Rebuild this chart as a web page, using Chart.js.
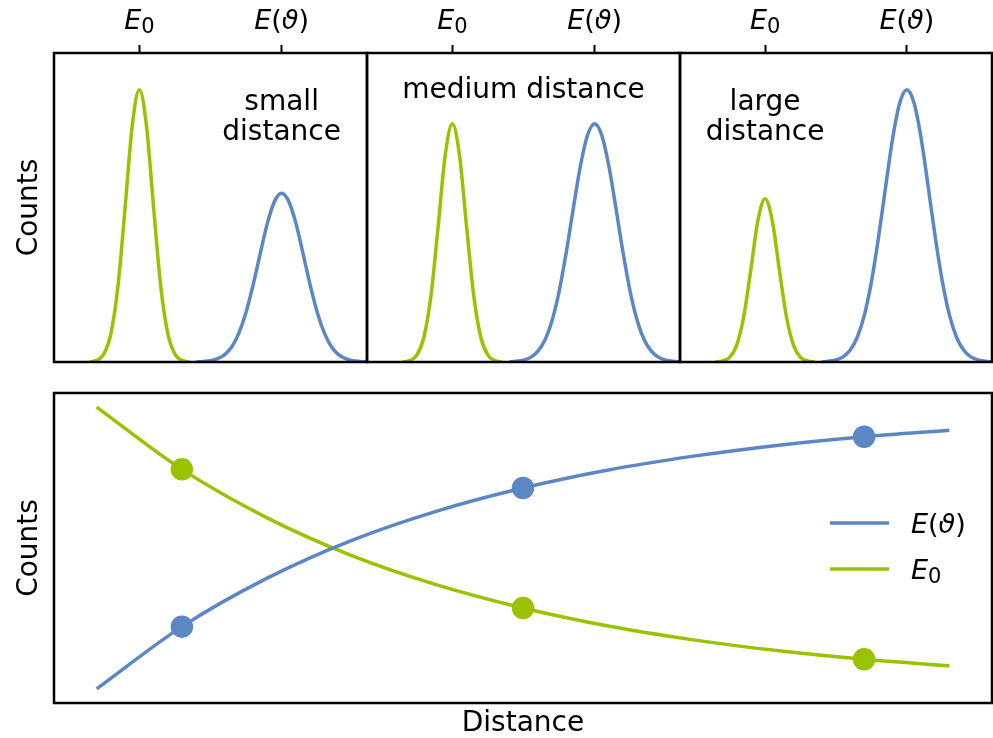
<!DOCTYPE html>
<html>
<head>
<meta charset="utf-8">
<script src="https://cdn.jsdelivr.net/npm/chart.js@4"></script>
<style>
  html, body { margin: 0; padding: 0; background: #fff; }
  #wrap { position: relative; width: 993px; height: 738px; }
  #wrap canvas { position: absolute; left: 0; top: 0; }
</style>
</head>
<body>
<div id="wrap">
  <canvas id="small" width="993" height="738"></canvas>
  <canvas id="medium" width="993" height="738"></canvas>
  <canvas id="large" width="993" height="738"></canvas>
  <canvas id="trend" width="993" height="738"></canvas>
</div>
<script>
// ---- top row: spectra at three distances ----
const energyTicks = [3, 8];
const energyTickLabels = ['E_0', 'E(ϑ)'];
const panelNotes = [['small', 'distance'], ['medium distance'], ['large', 'distance']];

const e0Energy = [1.25, 1.5, 1.75, 2, 2.25, 2.5, 2.75, 3, 3.25, 3.5, 3.75, 4, 4.25, 4.5, 4.75];
const eThetaEnergy = [5, 5.25, 5.5, 5.75, 6, 6.25, 6.5, 6.75, 7, 7.25, 7.5, 7.75, 8,
                      8.25, 8.5, 8.75, 9, 9.25, 9.5, 9.75, 10, 10.25, 10.5, 10.75, 11];

const e0Small = [0, 0.006, 0.029, 0.104, 0.28, 0.568, 0.868, 1, 0.868, 0.568, 0.28, 0.104, 0.029, 0.006, 0];
const eThetaSmall = [0, 0.002, 0.005, 0.012, 0.027, 0.056, 0.107, 0.183, 0.284, 0.399, 0.51, 0.59, 0.62,
                     0.59, 0.51, 0.399, 0.284, 0.183, 0.107, 0.056, 0.027, 0.012, 0.005, 0.002, 0];
const e0Medium = [0, 0.005, 0.025, 0.091, 0.245, 0.497, 0.76, 0.875, 0.76, 0.497, 0.245, 0.091, 0.025, 0.005, 0];
const eThetaMedium = [0, 0.003, 0.007, 0.017, 0.039, 0.08, 0.151, 0.258, 0.401, 0.564, 0.72, 0.833, 0.875,
                      0.833, 0.72, 0.564, 0.401, 0.258, 0.151, 0.08, 0.039, 0.017, 0.007, 0.003, 0];
const e0Large = [0, 0.004, 0.017, 0.062, 0.168, 0.341, 0.521, 0.6, 0.521, 0.341, 0.168, 0.062, 0.017, 0.004, 0];
const eThetaLarge = [0, 0.003, 0.008, 0.019, 0.044, 0.091, 0.172, 0.295, 0.458, 0.644, 0.823, 0.952, 1,
                     0.952, 0.823, 0.644, 0.458, 0.295, 0.172, 0.091, 0.044, 0.019, 0.008, 0.003, 0];

// ---- bottom: counts against distance ----
const distance = [0, 1, 2, 3, 4, 5, 6, 7, 8, 9, 10];
const countsETheta = [0, 0.221, 0.393, 0.528, 0.632, 0.713, 0.777, 0.826, 0.865, 0.895, 0.918];
const countsE0 = [1, 0.779, 0.607, 0.472, 0.368, 0.287, 0.223, 0.174, 0.135, 0.105, 0.082];
const markedDistance = [1, 5, 9];
const seriesLabels = ['E(ϑ)', 'E_0'];

const BLUE = '#5b87c5';
const GREEN = '#9ac200';
const FONT = '"DejaVu Sans", sans-serif';
const LINE_W = 3.5;

Chart.defaults.font.family = FONT;
Chart.defaults.color = '#000';

// split "E_0" / "E(ϑ)" into italic letters, upright symbols, subscripts
function mathRuns(label) {
  const runs = [];
  for (let i = 0; i < label.length; i++) {
    const ch = label[i];
    if (ch === '_') { runs.push({ t: label[++i], sub: true }); continue; }
    runs.push({ t: ch, italic: /[A-Za-zϑ]/.test(ch) });
  }
  return runs;
}

function drawMath(ctx, label, x, y, align) {
  const runs = mathRuns(label);
  const fontFor = r => (r.italic ? 'italic ' : '') + (r.sub ? 21 : 27) + 'px ' + FONT;
  let w = 0;
  runs.forEach(r => { ctx.font = fontFor(r); r.w = ctx.measureText(r.t).width; w += r.w; });
  let cx = align === 'center' ? x - w / 2 : x;
  ctx.save();
  ctx.fillStyle = '#000';
  ctx.textAlign = 'left';
  ctx.textBaseline = 'alphabetic';
  runs.forEach(r => {
    ctx.font = fontFor(r);
    ctx.fillText(r.t, cx, r.sub ? y + 4 : y);
    cx += r.w;
  });
  ctx.restore();
}

const framePlugin = {
  id: 'frame',
  afterDatasetsDraw(chart) {
    const { ctx, chartArea: a } = chart;
    ctx.save();
    ctx.strokeStyle = '#000';
    ctx.lineWidth = 2.5;
    ctx.strokeRect(a.left, a.top, a.right - a.left, a.bottom - a.top);
    ctx.restore();
  }
};

// tick labels above the top axis and the text note inside each panel
const spectrumText = {
  id: 'spectrumText',
  afterDraw(chart, args, opts) {
    const { ctx, chartArea: a } = chart;
    const top = chart.scales.xt;
    top.ticks.forEach((t, i) => {
      drawMath(ctx, energyTickLabels[i], top.getPixelForValue(t.value), a.top - 24, 'center');
    });
    const x = chart.scales.x.getPixelForValue(opts.noteAt);
    ctx.save();
    ctx.font = '28px ' + FONT;
    ctx.fillStyle = '#000';
    ctx.textAlign = 'center';
    ctx.textBaseline = 'alphabetic';
    opts.lines.forEach((line, i) => ctx.fillText(line, x, a.top + opts.firstBaseline + i * 30));
    ctx.restore();
  }
};

const panelEdges = [54, 367, 680, 992];

function spectrumPanel(id, idx, e0Counts, eThetaCounts, noteAt, firstBaseline) {
  const showY = idx === 0;
  return new Chart(document.getElementById(id), {
    type: 'line',
    data: {
      datasets: [
        { label: 'E_0', data: e0Energy.map((x, i) => ({ x, y: e0Counts[i] })), borderColor: GREEN, borderWidth: LINE_W, clip: 0 },
        { label: 'E(ϑ)', data: eThetaEnergy.map((x, i) => ({ x, y: eThetaCounts[i] })), borderColor: BLUE, borderWidth: LINE_W, clip: 0 }
      ]
    },
    options: {
      responsive: false,
      animation: false,
      devicePixelRatio: 1,
      events: [],
      layout: {
        padding: { left: showY ? 0 : panelEdges[idx], right: 993 - panelEdges[idx + 1], top: 0, bottom: 738 - 362 }
      },
      elements: {
        line: { cubicInterpolationMode: 'monotone', fill: false },
        point: { radius: 0 }
      },
      plugins: {
        legend: { display: false },
        tooltip: { enabled: false },
        spectrumText: { lines: panelNotes[idx], noteAt, firstBaseline }
      },
      scales: {
        x: { type: 'linear', display: false, min: 0, max: 11 },
        xt: {
          type: 'linear', position: 'top', min: 0, max: 11,
          afterBuildTicks: s => { s.ticks = energyTicks.map(v => ({ value: v })); },
          afterFit: s => { s.height = 53; },
          ticks: { display: false },
          border: { display: false },
          grid: { drawOnChartArea: false, tickLength: 8, tickWidth: 2, tickColor: '#000' }
        },
        y: {
          display: showY, min: 0, max: 1.135,
          afterFit: s => { s.width = showY ? 54 : 0; },
          ticks: { display: false },
          grid: { display: false },
          border: { display: false },
          title: { display: true, text: 'Counts', font: { size: 28, lineHeight: 1 }, padding: { top: 16, bottom: 0 } }
        }
      }
    },
    plugins: [framePlugin, spectrumText]
  });
}

spectrumPanel('small', 0, e0Small, eThetaSmall, 8, 57);
spectrumPanel('medium', 1, e0Medium, eThetaMedium, 5.5, 45);
spectrumPanel('large', 2, e0Large, eThetaLarge, 3, 57);

const trendLegend = {
  id: 'trendLegend',
  afterDraw(chart) {
    const { ctx, chartArea: a } = chart;
    chart.data.datasets.forEach((ds, i) => {
      const y = a.top + 130 + i * 46;
      ctx.save();
      ctx.strokeStyle = ds.borderColor;
      ctx.lineWidth = LINE_W;
      ctx.beginPath();
      ctx.moveTo(a.right - 162, y);
      ctx.lineTo(a.right - 103, y);
      ctx.stroke();
      ctx.restore();
      drawMath(ctx, seriesLabels[i], a.right - 81, y + 10, 'left');
    });
  }
};

const markerRadius = ctx => (ctx.raw && markedDistance.includes(ctx.raw.x) ? 9.5 : 0);

new Chart(document.getElementById('trend'), {
  type: 'line',
  data: {
    datasets: [
      {
        label: seriesLabels[0],
        data: distance.map((x, i) => ({ x, y: countsETheta[i] })),
        borderColor: BLUE, backgroundColor: BLUE, pointBackgroundColor: BLUE,
        borderWidth: LINE_W, pointRadius: markerRadius
      },
      {
        label: seriesLabels[1],
        data: distance.map((x, i) => ({ x, y: countsE0[i] })),
        borderColor: GREEN, backgroundColor: GREEN, pointBackgroundColor: GREEN,
        borderWidth: LINE_W, pointRadius: markerRadius
      }
    ]
  },
  options: {
    responsive: false,
    animation: false,
    devicePixelRatio: 1,
    events: [],
    layout: { padding: { left: 0, right: 1, top: 393, bottom: 0 } },
    elements: {
      line: { cubicInterpolationMode: 'monotone', fill: false },
      point: { borderWidth: 0 }
    },
    plugins: { legend: { display: false }, tooltip: { enabled: false } },
    scales: {
      x: {
        type: 'linear', min: -0.5, max: 10.5,
        afterFit: s => { s.height = 35; },
        ticks: { display: false },
        grid: { display: false },
        border: { display: false },
        title: { display: true, text: 'Distance', font: { size: 28, lineHeight: 1 }, padding: { top: 0, bottom: 0 } }
      },
      y: {
        min: -0.05, max: 1.05,
        afterFit: s => { s.width = 54; },
        ticks: { display: false },
        grid: { display: false },
        border: { display: false },
        title: { display: true, text: 'Counts', font: { size: 28, lineHeight: 1 }, padding: { top: 16, bottom: 0 } }
      }
    }
  },
  plugins: [framePlugin, trendLegend]
});
</script>
</body>
</html>
